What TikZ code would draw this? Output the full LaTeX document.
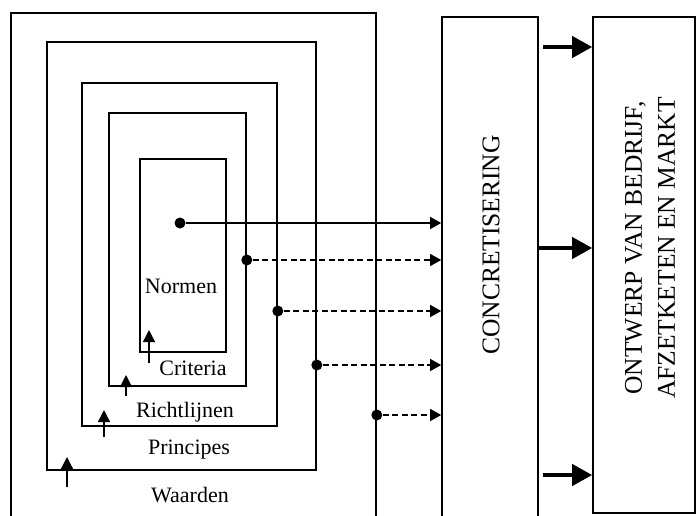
\documentclass[tikz,border=0pt]{standalone}
\usepackage{fontspec}
\setmainfont{Liberation Serif}
\usetikzlibrary{positioning,arrows.meta}

\begin{document}
\begin{tikzpicture}[x=1pt,y=-1pt,
  box/.style={draw,line width=1.6pt,inner sep=0pt},
  lbl/.style={font=\fontsize{22}{26}\selectfont,inner sep=0pt},
  vlbl/.style={font=\fontsize{25.5}{33}\selectfont,inner sep=0pt,rotate=90,align=center},
  dot/.style={circle,fill,inner sep=0pt,minimum size=11pt},
  feed/.style={line width=1.3pt,-{Triangle[length=11pt,width=12pt]}},
  up/.style={line width=1.3pt,-{Triangle[length=12pt,width=12pt]}},
  thick arrow/.style={line width=4pt,-{Triangle[length=20pt,width=21pt]}}]
  \useasboundingbox (0,0) rectangle (696,515);
  \clip (0,0) rectangle (696,515);
  % nested boxes
  \node[box,minimum width=365pt,minimum height=527pt] (waarden) at (193.5,276.5) {};
  \node[box,minimum width=269pt,minimum height=428pt] (principes) at (181.5,256) {};
  \node[box,minimum width=195pt,minimum height=343pt] (richtlijnen) at (179.5,254.5) {};
  \node[box,minimum width=137pt,minimum height=273pt] (criteria) at (177.5,249.5) {};
  \node[box,minimum width=86pt,minimum height=193pt] (normen) at (183,255.5) {};
  \node[box,minimum width=96pt,minimum height=523pt] (conc) at (490,278.5) {};
  \node[box,minimum width=102pt,minimum height=496pt] (ontwerp) at (644,265) {};
  % labels
  \node[lbl] (lnormen) at (181,286) {Normen};
  \node[lbl] (lcriteria) at (193,368) {Criteria};
  \node[lbl] (lrichtlijnen) at (185,412) {Richtlijnen};
  \node[lbl] (lprincipes) at (189,450) {Principes};
  \node[lbl] (lwaarden) at (190,495) {Waarden};
  \node[vlbl] (lconc) at (491,245) {CONCRETISERING};
  \node[vlbl] (lontwerp) at (650,248) {ONTWERP VAN BEDRIJF,\\AFZETKETEN EN MARKT};
  % dots
  \node[dot] (dnormen) at (180,223) {};
  \node[dot] (dcriteria) at (criteria.east |- 0,260) {};
  \node[dot] (drichtlijnen) at (richtlijnen.east |- 0,311) {};
  \node[dot] (dprincipes) at (principes.east |- 0,365) {};
  \node[dot] (dwaarden) at (waarden.east |- 0,415) {};
  \draw[feed] (dnormen) -- (conc.west |- dnormen);
  \draw[feed,dash pattern=on 6pt off 3.5pt] (dcriteria) -- (conc.west |- dcriteria);
  \draw[feed,dash pattern=on 6pt off 3.5pt] (drichtlijnen) -- (conc.west |- drichtlijnen);
  \draw[feed,dash pattern=on 6pt off 3.5pt] (dprincipes) -- (conc.west |- dprincipes);
  \draw[feed,dash pattern=on 6pt off 3.5pt] (dwaarden) -- (conc.west |- dwaarden);
  % small arrows
  \coordinate (a1) at (149,363);
  \coordinate (a2) at (126,396);
  \coordinate (a3) at (104,437);
  \coordinate (a4) at (67,487);
  \draw[up] (a1) -- ++(0,-33);
  \draw[up] (a2) -- ++(0,-21);
  \draw[up] (a3) -- ++(0,-27);
  \draw[up] (a4) -- ++(0,-30);
  % thick arrows
  \draw[thick arrow] ([xshift=4pt]conc.east |- 0,47) -- (ontwerp.west |- 0,47);
  \draw[thick arrow] (conc.east |- 0,248) -- (ontwerp.west |- 0,248);
  \draw[thick arrow] ([xshift=4pt]conc.east |- 0,475) -- (ontwerp.west |- 0,475);
\end{tikzpicture}
\end{document}
